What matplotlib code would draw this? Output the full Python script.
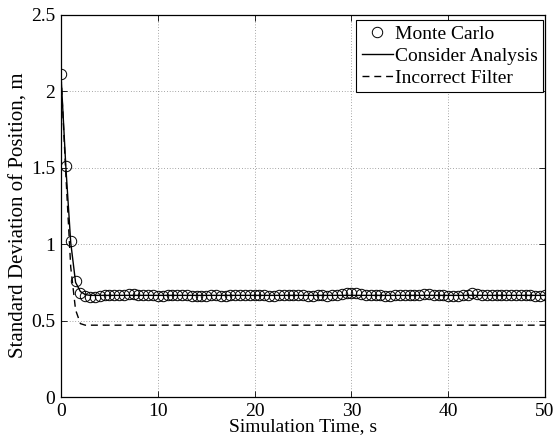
import numpy as np
import matplotlib
matplotlib.use("Agg")
import matplotlib.pyplot as plt
from matplotlib.ticker import FuncFormatter

plt.rcParams['font.family'] = ['Liberation Serif', 'DejaVu Serif']
plt.rcParams['mathtext.fontset'] = 'stix'

# Monte Carlo samples every 0.5 s
mc_time = [i * 0.5 for i in range(101)]
mc_std = [2.11, 1.51, 1.02, 0.76, 0.68, 0.66, 0.655, 0.655, 0.66, 0.665,
          0.67, 0.67, 0.67, 0.67, 0.675, 0.675, 0.67, 0.67, 0.665, 0.665,
          0.66, 0.66, 0.665, 0.665, 0.67, 0.665, 0.665, 0.66, 0.66, 0.66,
          0.66, 0.665, 0.665, 0.66, 0.66, 0.665, 0.67, 0.665, 0.665, 0.67,
          0.67, 0.665, 0.665, 0.66, 0.66, 0.665, 0.665, 0.67, 0.67, 0.67,
          0.665, 0.66, 0.66, 0.665, 0.665, 0.66, 0.665, 0.67, 0.675, 0.68,
          0.68, 0.68, 0.675, 0.67, 0.67, 0.665, 0.665, 0.66, 0.66, 0.665,
          0.665, 0.67, 0.67, 0.665, 0.67, 0.675, 0.675, 0.67, 0.665, 0.665,
          0.66, 0.66, 0.66, 0.665, 0.67, 0.68, 0.675, 0.67, 0.665, 0.665,
          0.67, 0.67, 0.665, 0.665, 0.67, 0.67, 0.665, 0.665, 0.66, 0.66,
          0.665]

consider_time = [0, 0.5, 1.0, 1.5, 2.0, 2.5, 3.0, 50]
consider_std = [2.1, 1.5, 1.01, 0.75, 0.69, 0.67, 0.665, 0.665]

incorrect_time = [0, 0.5, 1.0, 1.5, 2.0, 2.5, 50]
incorrect_std = [2.1, 1.45, 0.85, 0.57, 0.48, 0.47, 0.47]

fig = plt.figure(figsize=(5.55, 4.37), dpi=100)
ax = fig.add_axes([0.110, 0.0915, 0.872, 0.8745])

ax.plot(mc_time, mc_std, linestyle='none', marker='o', markersize=7.5,
        markerfacecolor='none', markeredgecolor='black', markeredgewidth=0.7,
        label='Monte Carlo')
ax.plot(consider_time, consider_std, '-', color='black', linewidth=1.0,
        label='Consider Analysis')
ax.plot(incorrect_time, incorrect_std, '--', color='black', linewidth=1.0,
        dashes=(5, 3.5), label='Incorrect Filter')

ax.set_xlim(0, 50)
ax.set_ylim(0, 2.5)
ax.set_xticks([0, 10, 20, 30, 40, 50])
ax.set_yticks([0, 0.5, 1, 1.5, 2, 2.5])
ax.yaxis.set_major_formatter(FuncFormatter(lambda v, p: f"{v:g}"))
ax.tick_params(direction='in', top=True, right=True, labelsize=14,
               length=4, width=0.6)
ax.tick_params(axis='x', pad=4)
ax.tick_params(axis='y', pad=4)
ax.grid(True, linestyle=(0, (1, 3)), color='#555555', linewidth=0.5)
for s in ax.spines.values():
    s.set_linewidth(0.9)

ax.set_xlabel('Simulation Time, s', fontsize=14, labelpad=-1)
ax.set_ylabel('Standard Deviation of Position, m', fontsize=15)
ax.yaxis.set_label_coords(-0.068, 0.476)

leg = ax.legend(loc='upper right', bbox_to_anchor=(0.9959, 0.987),
                borderaxespad=0, fontsize=14, frameon=True, fancybox=False,
                edgecolor='black', framealpha=1, handlelength=1.6,
                handletextpad=0.1, borderpad=0.28, labelspacing=0.22)
leg.get_frame().set_linewidth(0.8)

fig.savefig('out.png', dpi=100)
